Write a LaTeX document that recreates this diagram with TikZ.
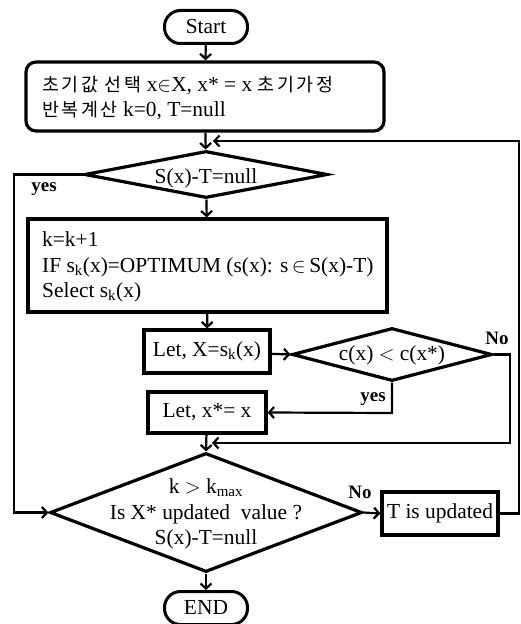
\documentclass[tikz,border=0pt]{standalone}
\usepackage{fontspec}
\setmainfont{Liberation Serif}
\newfontfamily\cjkf[LetterSpace=14]{Noto Sans CJK KR}
\usetikzlibrary{shapes.geometric,arrows.meta}
\newcommand\kr[1]{{\fontsize{18.5}{20}\cjkf #1}}
\tikzset{
  every node/.style={font=\fontsize{21.5}{25.5}\selectfont, inner sep=0pt},
  term/.style={draw, line width=3bp, rounded corners=16bp, minimum width=83bp, minimum height=33bp},
  proc/.style={draw, line width=3.2bp},
  initbox/.style={draw, line width=3.2bp, rounded corners=10bp},
  dec/.style={draw, diamond, line width=3.2bp, inner sep=0pt},
  conn/.style={line width=2.2bp, -{Straight Barb[length=5bp,width=11bp]}},
  lbl/.style={font=\fontsize{19}{20}\selectfont\bfseries},
}
\begin{document}
\begin{tikzpicture}[x=1bp,y=-1bp]
\useasboundingbox (0,0) rectangle (521,624);
% nodes
\node[term] (start) at (206,27) {Start};
\node[initbox, minimum width=358bp, minimum height=69bp] (init) at (205,96.5) {};
\node[anchor=west, align=left] (inittxt) at (42,98) {\kr{초기값 선택} x$\in$X, x* = x \kr{초기가정}\\\kr{반복계산} k=0, T=null};
\node[dec, minimum width=243bp, minimum height=47bp] (d1) at (206,174.5) {};
\node (d1t) at (206,178) {S(x)-T=null};
\node[proc, minimum width=359bp, minimum height=93bp] (b2) at (207.5,265.5) {};
\node[anchor=west, align=left] (b2t) at (42,267) {k=k+1\\IF s\textsubscript{k}(x)=OPTIMUM (s(x): s\,$\in$\,S(x)-T)\\Select s\textsubscript{k}(x)};
\node[proc, minimum width=126bp, minimum height=43bp] (b3) at (207,351.5) {Let, X=s\textsubscript{k}(x)};
\node[dec, minimum width=200bp, minimum height=53bp] (d2) at (392,354.5) {};
\node (d2t) at (392,355) {c(x) $<$ c(x*)};
\node[proc, minimum width=118bp, minimum height=41bp] (b4) at (207,412.5) {Let, x*= x};
\node[dec, minimum width=312bp, minimum height=119bp] (d3) at (206,512.5) {};
\node[align=center] (d3t) at (206,514) {k $>$ k\textsubscript{max}\\Is X* updated\ \ value ?\\S(x)-T=null};
\node[proc, minimum width=116bp, minimum height=43bp] (b5) at (440,513.5) {T is updated};
\node[term] (end) at (206,608) {END};
% labels
\node[lbl] (l1) at (44,189) {yes};
\node[lbl] (l2) at (497,338) {No};
\node[lbl] (l3) at (373,399) {yes};
\node[lbl] (l4) at (360,492) {No};
% coordinates
\coordinate (c1) at (14,174.5);
\coordinate (c2) at (14,512.5);
\coordinate (c3) at (510,354.5);
\coordinate (c4) at (510,443);
\coordinate (c5) at (212,443);
\coordinate (c6) at (392,413);
\coordinate (c7) at (519,513.5);
\coordinate (c8) at (519,141);
\coordinate (c9) at (213,141);
% connectors
\draw[conn] (start) -- (init);
\draw[conn] (init) -- (d1);
\draw[conn] (d1) -- (b2);
\draw[conn] (b2) -- (b3);
\draw[conn] (b3) -- (d2.west);
\draw[conn] (b4) -- (d3.north);
\draw[conn] (d3) -- (end);
\draw[conn] (d3.east) -- (b5.west);
\draw[conn] (d1.west) -- (c1) -- (c2) -- (d3.west);
\draw[conn] (d2.east) -- (c3) -- (c4) -- (c5);
\draw[conn] (d2.south) -- (c6) -- (b4.east);
\draw[conn] (b5.east) -- (c7) -- (c8) -- (c9);
\end{tikzpicture}
\end{document}
